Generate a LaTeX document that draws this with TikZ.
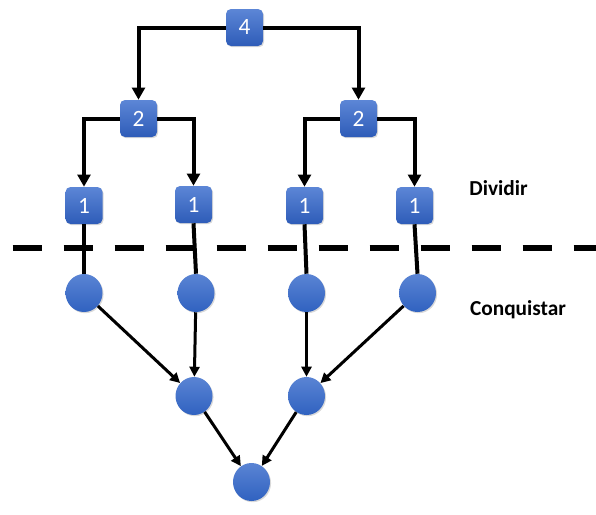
\documentclass[tikz,border=0pt]{standalone}
\usepackage{fontspec}
\setmainfont{Carlito}
\usetikzlibrary{arrows.meta,shadows,shapes.geometric}
\definecolor{btop}{HTML}{5C86D6}
\definecolor{bbot}{HTML}{2E5CB8}
\definecolor{ctop}{HTML}{5A84D4}
\definecolor{cbot}{HTML}{3062C0}
\begin{document}
\begin{tikzpicture}[x=0.75pt,y=-0.75pt,
  box/.style={rounded corners=3.75pt, minimum size=27.75pt, inner sep=0pt,
    top color=btop, bottom color=bbot, draw=none, text=white,
    font=\fontsize{17.5}{19}\selectfont,
    drop shadow={opacity=0.3,shadow xshift=0.8pt,shadow yshift=-0.9pt}},
  dot/.style={ellipse, minimum width=27.75pt, minimum height=28.5pt, inner sep=0pt,
    top color=ctop, bottom color=cbot, draw=none,
    drop shadow={opacity=0.3,shadow xshift=0.8pt,shadow yshift=-0.9pt}},
  link/.style={line width=3pt, -{Triangle[width=9.5pt,length=9pt]}},
  plain/.style={line width=3pt},
  merge/.style={line width=2.25pt, -{Triangle[width=7.5pt,length=7.5pt]}},
  sep/.style={line width=4.5pt, dash pattern=on 21.75pt off 16.5pt},
  lbl/.style={font=\bfseries\fontsize{16}{18}\selectfont}
]
\useasboundingbox (0,0) rectangle (596,514);
% boxes
\node[box] (b4) at (244.5,27.5) {4};
\node[box] (b2a) at (138.5,118.5) {2};
\node[box] (b2b) at (358.5,118.5) {2};
\node[box] (b1a) at (84,205.5) {1};
\node[box] (b1b) at (193.5,204.5) {1};
\node[box] (b1c) at (304.5,205.5) {1};
\node[box] (b1d) at (414.5,205.5) {1};
% circles
\node[dot] (c1) at (84,293) {};
\node[dot] (c2) at (196,293) {};
\node[dot] (c3) at (306.5,293) {};
\node[dot] (c4) at (417.5,293) {};
\node[dot] (d1) at (194,396) {};
\node[dot] (d2) at (306.5,396) {};
\node[dot] (e1) at (251.5,482) {};
% labels
\node[lbl] (tdiv) at (498.5,188) {Dividir};
\node[lbl] (tcon) at (518,310) {Conquistar};
% divide connectors
\draw[link] (b4.west) -| (b2a.north);
\draw[link] (b4.east) -| (b2b.north);
\draw[link] (b2a.west) -| (b1a.north);
\draw[link] (b2a.east) -| (b1b.north);
\draw[link] (b2b.west) -| (b1c.north);
\draw[link] (b2b.east) -| (b1d.north);
% drop lines
\draw[plain] (b1a.south) -- (c1.north);
\draw[plain] (b1b.south) -- (c2.north);
\draw[plain] (b1c.south) -- (c3.north);
\draw[plain] (b1d.south) -- (c4.north);
% separator
\coordinate (sl) at (12.6,248);
\coordinate (sr) at (596,248);
\draw[sep] (sl) -- (sr);
% conquer connectors
\draw[merge] (c1) -- (d1);
\draw[merge] (c2) -- (d1);
\draw[merge] (c3) -- (d2);
\draw[merge] (c4) -- (d2);
\draw[merge] (d1) -- (e1);
\draw[merge] (d2) -- (e1);
\end{tikzpicture}
\end{document}
